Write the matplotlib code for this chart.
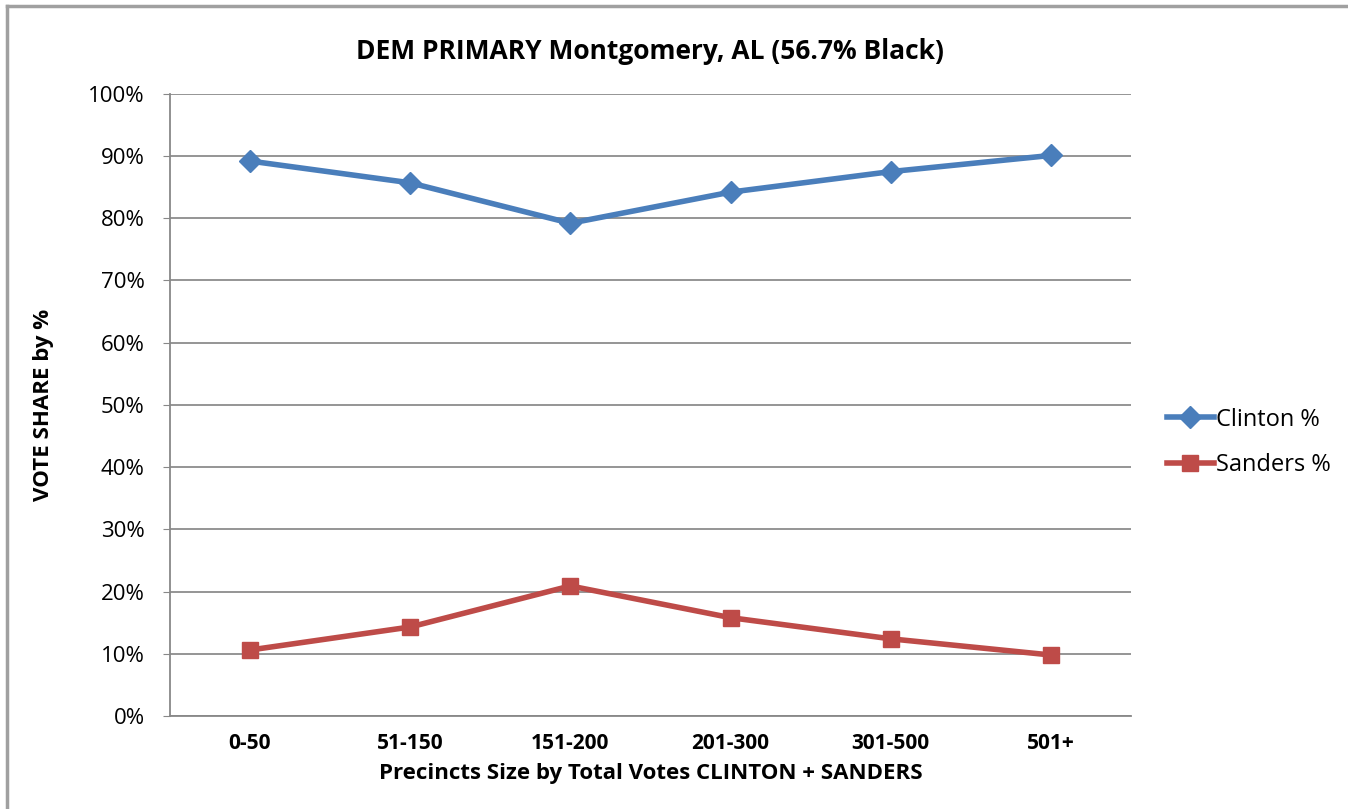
import matplotlib
matplotlib.use("Agg")
import matplotlib.pyplot as plt
from matplotlib.lines import Line2D
from matplotlib.ticker import FuncFormatter

categories = ["0-50", "51-150", "151-200", "201-300", "301-500", "501+"]
clinton = [89.2, 85.7, 79.2, 84.2, 87.5, 90.1]
sanders = [10.6, 14.3, 20.9, 15.8, 12.4, 9.8]

plt.rcParams['font.family'] = ['Open Sans', 'DejaVu Sans']

fig = plt.figure(figsize=(13.48, 8.09), dpi=100)
ax = fig.add_axes([0.126, 0.115, 0.713, 0.769])

x = list(range(len(categories)))
ax.plot(x, clinton, color='#4a7ebb', lw=4, marker='D', markersize=11, label='Clinton %')
ax.plot(x, sanders, color='#be4b48', lw=4, marker='s', markersize=12, label='Sanders %')

ax.set_xlim(-0.5, len(categories) - 0.5)
ax.set_ylim(0, 100)
ax.set_yticks(range(0, 101, 10))
ax.yaxis.set_major_formatter(FuncFormatter(lambda v, p: f"{int(v)}%"))
ax.set_xticks(x)
ax.set_xticklabels(categories, fontweight='bold', fontsize=15)
ax.tick_params(axis='x', length=0, pad=12)
ax.tick_params(axis='y', length=5, color='#888888', labelsize=16, pad=13)

ax.grid(axis='y', color='#8c8c8c', lw=1.3)
ax.set_axisbelow(True)
for s in ['top', 'right']:
    ax.spines[s].set_visible(False)
for s in ['left', 'bottom']:
    ax.spines[s].set_color('#888888')
    ax.spines[s].set_linewidth(1.3)

ax.set_title("DEM PRIMARY Montgomery, AL (56.7% Black)", fontsize=19, fontweight='bold', pad=25)
ax.set_xlabel("Precincts Size by Total Votes CLINTON + SANDERS", fontsize=16, fontweight='bold', labelpad=7)
ax.set_ylabel("VOTE SHARE by %", fontsize=16, fontweight='bold', labelpad=25)

ax.legend(loc='center left', bbox_to_anchor=(1.015, 0.44), frameon=False, fontsize=17,
          handlelength=2.0, labelspacing=0.9, handletextpad=0.1)

# chart frame: only top and left edges show
fig.add_artist(Line2D([0.005, 1.0], [0.992, 0.992], transform=fig.transFigure,
                      color='#a0a0a0', lw=2.5))
fig.add_artist(Line2D([0.005, 0.005], [0.0, 0.992], transform=fig.transFigure,
                      color='#a0a0a0', lw=2.5))

fig.savefig("out.png", dpi=100)
